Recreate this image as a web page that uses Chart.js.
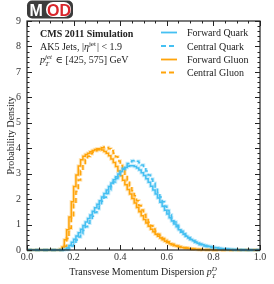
<!DOCTYPE html>
<html>
<head>
<meta charset="utf-8">
<script src="https://cdn.jsdelivr.net/npm/chart.js@4/dist/chart.umd.min.js"></script>
<style>
  html, body { margin: 0; padding: 0; background: #fff; }
  #c { display: block; }
</style>
</head>
<body>
<canvas id="c" width="274" height="284" style="width:274px;height:284px"></canvas>
<script>
// histogram contents, 100 bins of width 0.01 from 0 to 1
const binWidth = 0.01;

const forwardQuark = [
  0,0,0,0,0,0,0,0,0,0,0,0,0,0,0,0,
  0.02,0.08,0.18,0.30,0.42,0.55,0.68,0.82,0.96,1.10,
  1.24,1.38,1.52,1.66,1.80,1.94,2.08,2.22,2.36,2.50,
  2.63,2.76,2.88,2.99,3.09,3.17,3.24,3.29,3.31,3.31,
  3.28,3.22,3.14,3.04,2.93,2.80,2.66,2.51,2.36,2.20,
  2.04,1.88,1.72,1.56,1.41,1.27,1.14,1.02,0.91,0.80,
  0.70,0.62,0.54,0.47,0.41,0.36,0.31,0.27,0.24,0.21,
  0.18,0.155,0.135,0.115,0.10,0.085,0.07,0.06,0.05,0.042,
  0.035,0.028,0.022,0.018,0.014,0.011,0.008,0.006,0.004,0.003,
  0.002,0.001,0,0
];

const centralQuark = [
  0,0,0,0,0,0,0,0,0,0,0,0,0,0,0,0,0,
  0.02,0.07,0.16,
  0.27,0.39,0.51,0.64,0.77,0.91,1.05,1.19,1.33,1.47,
  1.62,1.77,1.92,2.07,2.22,2.37,2.52,2.67,2.81,2.95,
  3.08,3.20,3.31,3.40,3.47,3.51,3.52,3.49,3.43,3.34,
  3.23,3.10,2.95,2.79,2.62,2.44,2.26,2.08,1.90,1.72,
  1.55,1.39,1.24,1.10,0.97,0.85,0.74,0.64,0.56,0.48,
  0.42,0.36,0.31,0.26,0.22,0.19,0.16,0.135,0.115,0.095,
  0.08,0.066,0.054,0.044,0.036,0.029,0.023,0.018,0.014,0.011,
  0.008,0.006,0.004,0.003,0.002,0.001,0,0,0,0
];

const forwardGluon = [
  0,0,0,0,0,0,0,0,0,0,0,0,0,0,
  0.03,0.12,0.40,0.80,1.30,1.90,
  2.50,2.95,3.30,3.55,3.68,3.75,3.80,3.86,3.91,3.95,
  3.98,3.97,3.93,3.87,3.80,3.70,3.58,3.44,3.28,3.10,
  2.92,2.74,2.56,2.38,2.20,2.02,1.85,1.67,1.50,1.35,
  1.20,1.06,0.93,0.82,0.72,0.62,0.54,0.47,0.40,0.34,
  0.29,0.25,0.21,0.18,0.15,0.12,0.10,0.085,0.07,0.055,
  0.045,0.035,0.028,0.022,0.017,0.013,0.010,0.008,0.006,0.005,
  0.004,0.003,0.002,0.002,0.001,0,0,0,0,0,
  0,0,0,0,0,0,0,0,0,0
];

const centralGluon = [
  0,0,0,0,0,0,0,0,0,0,0,0,0,0,0,
  0.03,0.15,0.45,0.85,1.30,
  1.80,2.30,2.75,3.10,3.35,3.55,3.68,3.78,3.85,3.90,
  3.94,3.98,4.02,4.05,4.03,3.98,3.90,3.80,3.66,3.50,
  3.32,3.13,2.93,2.73,2.53,2.33,2.13,1.94,1.75,1.57,
  1.40,1.24,1.09,0.95,0.83,0.72,0.62,0.53,0.45,0.38,
  0.32,0.27,0.23,0.19,0.16,0.13,0.11,0.09,0.075,0.06,
  0.048,0.038,0.030,0.024,0.018,0.014,0.011,0.008,0.006,0.005,
  0.004,0.003,0.002,0.002,0.001,0,0,0,0,0,
  0,0,0,0,0,0,0,0,0,0
];

const seriesNames = ['Forward Quark', 'Central Quark', 'Forward Gluon', 'Central Gluon'];
const xTicks = [0, 0.2, 0.4, 0.6, 0.8, 1.0];
const yTicks = [0, 1, 2, 3, 4, 5, 6, 7, 8, 9];

const BLUE = '#45c0f2';
const ORANGE = '#ffa40a';
const DASH = [5, 3];
const SERIF = '"Liberation Serif", "DejaVu Serif", serif';

function toSteps(values) {
  const pts = values.map((v, i) => ({ x: i * binWidth, y: v }));
  pts.push({ x: values.length * binWidth, y: values[values.length - 1] });
  return pts;
}

function histSets(label, values, color, dashed) {
  const dash = dashed ? DASH : [];
  const halo = color === BLUE ? 'rgba(69,192,242,0.28)' : 'rgba(255,164,10,0.28)';
  return [
    { label: label + ' halo', data: toSteps(values), borderColor: halo, borderWidth: 3.5,
      borderDash: dash, borderCapStyle: 'butt', stepped: true, pointRadius: 0, fill: false, clip: false },
    { label, data: toSteps(values), borderColor: color, borderWidth: 1.5,
      borderDash: dash, borderCapStyle: 'butt', stepped: true, pointRadius: 0, fill: false, clip: false }
  ];
}

// runs of text with sub/superscripts
function drawRuns(ctx, x, y, runs) {
  for (const r of runs) {
    ctx.font = r.font;
    if (r.sup !== undefined || r.sub !== undefined) {
      let w = 0;
      if (r.sup) { ctx.fillText(r.sup, x, y - 4.5); w = ctx.measureText(r.sup).width; }
      if (r.sub) { ctx.fillText(r.sub, x, y + 2.5); w = Math.max(w, ctx.measureText(r.sub).width); }
      x += w + 1;
    } else {
      ctx.fillText(r.t, x, y);
      x += ctx.measureText(r.t).width;
    }
  }
  return x;
}

function runsWidth(ctx, runs) {
  let w = 0;
  for (const r of runs) {
    ctx.font = r.font;
    if (r.sup !== undefined || r.sub !== undefined) {
      w += Math.max(r.sup ? ctx.measureText(r.sup).width : 0, r.sub ? ctx.measureText(r.sub).width : 0) + 1;
    } else w += ctx.measureText(r.t).width;
  }
  return w;
}

function roundRect(ctx, x, y, w, h, r) {
  ctx.beginPath();
  ctx.moveTo(x + r, y);
  ctx.arcTo(x + w, y, x + w, y + h, r);
  ctx.arcTo(x + w, y + h, x, y + h, r);
  ctx.arcTo(x, y + h, x, y, r);
  ctx.arcTo(x, y, x + w, y, r);
  ctx.closePath();
}

const decorations = {
  id: 'decorations',
  afterDraw(chart) {
    const ctx = chart.ctx;
    const { left, right, top, bottom } = chart.chartArea;
    const xs = chart.scales.x, ys = chart.scales.y;
    ctx.save();

    // frame and inward ticks on all four sides
    ctx.strokeStyle = '#222';
    ctx.lineWidth = 1.2;
    ctx.strokeRect(left, top, right - left, bottom - top);
    ctx.lineWidth = 1;
    ctx.beginPath();
    for (let k = 0; k <= 20; k++) {
      const px = Math.round(xs.getPixelForValue(k * 0.05)) + 0.5;
      const len = k % 4 === 0 ? 5 : 2.5;
      ctx.moveTo(px, bottom); ctx.lineTo(px, bottom - len);
      ctx.moveTo(px, top); ctx.lineTo(px, top + len);
    }
    for (let k = 0; k <= 45; k++) {
      const py = Math.round(ys.getPixelForValue(k * 0.2)) + 0.5;
      const len = k % 5 === 0 ? 5 : 2.5;
      ctx.moveTo(left, py); ctx.lineTo(left + len, py);
      ctx.moveTo(right, py); ctx.lineTo(right - len, py);
    }
    ctx.stroke();

    // tick labels
    ctx.fillStyle = '#333';
    ctx.font = '10px ' + SERIF;
    ctx.textAlign = 'center';
    ctx.textBaseline = 'top';
    xTicks.forEach(v => ctx.fillText(v.toFixed(1), xs.getPixelForValue(v), bottom + 2));
    ctx.textAlign = 'right';
    ctx.textBaseline = 'middle';
    yTicks.forEach(v => ctx.fillText(String(v), left - 6, ys.getPixelForValue(v)));

    ctx.fillStyle = '#222';
    ctx.textBaseline = 'alphabetic';
    ctx.textAlign = 'left';

    // annotation text
    ctx.font = 'bold 10px ' + SERIF;
    ctx.fillText('CMS 2011 Simulation', 40, 37);
    drawRuns(ctx, 40, 50, [
      { t: 'AK5 Jets, |', font: '10px ' + SERIF },
      { t: 'η', font: 'italic 10px ' + SERIF },
      { sup: 'jet', font: '7px ' + SERIF },
      { t: '| < 1.9', font: '10px ' + SERIF }
    ]);
    drawRuns(ctx, 40, 63, [
      { t: 'p', font: 'italic 10px ' + SERIF },
      { sup: 'jet', sub: 'T', font: 'italic 7px ' + SERIF },
      { t: ' ∈ [425, 575] GeV', font: '10px ' + SERIF }
    ]);

    // legend
    const legendRows = [
      { color: BLUE, dash: [] }, { color: BLUE, dash: DASH },
      { color: ORANGE, dash: [] }, { color: ORANGE, dash: DASH }
    ];
    const rowY = [36, 49.5, 63, 76];
    legendRows.forEach((row, i) => {
      ctx.strokeStyle = row.color;
      ctx.lineWidth = 1.8;
      ctx.setLineDash(row.dash);
      ctx.beginPath();
      ctx.moveTo(161, rowY[i] - 3.5); ctx.lineTo(177, rowY[i] - 3.5);
      ctx.stroke();
      ctx.setLineDash([]);
      ctx.font = '10px ' + SERIF;
      ctx.fillText(seriesNames[i], 187, rowY[i]);
    });

    // x axis title
    const xRuns = [
      { t: 'Transvese Momentum Dispersion ', font: '10px ' + SERIF },
      { t: 'p', font: 'italic 10px ' + SERIF },
      { sup: 'D', sub: 'T', font: 'italic 7px ' + SERIF }
    ];
    const w = runsWidth(ctx, xRuns);
    drawRuns(ctx, (left + right) / 2 - w / 2, 275, xRuns);

    // y axis title
    ctx.save();
    ctx.translate(14, (top + bottom) / 2);
    ctx.rotate(-Math.PI / 2);
    ctx.textAlign = 'center';
    ctx.font = '10px ' + SERIF;
    ctx.fillText('Probability Density', 0, 0);
    ctx.restore();

    // MOD logo
    ctx.fillStyle = '#3b3b3b';
    roundRect(ctx, 27, 0.5, 46, 18, 5);
    ctx.fill();
    ctx.fillStyle = '#fff';
    roundRect(ctx, 46, 2, 25, 15, 7);
    ctx.fill();
    ctx.font = 'bold 16px "Liberation Sans", Arial, sans-serif';
    ctx.fillStyle = '#fff';
    ctx.fillText('M', 29.5, 16);
    ctx.fillStyle = '#d9262c';
    ctx.fillText('OD', 47, 16);

    ctx.restore();
  }
};

const datasets = [
  ...histSets(seriesNames[0], forwardQuark, BLUE, false),
  ...histSets(seriesNames[1], centralQuark, BLUE, true),
  ...histSets(seriesNames[2], forwardGluon, ORANGE, false),
  ...histSets(seriesNames[3], centralGluon, ORANGE, true)
];

new Chart(document.getElementById('c'), {
  type: 'line',
  data: { datasets },
  options: {
    responsive: false,
    animation: false,
    layout: { padding: { top: 21, right: 14, left: 0, bottom: 0 } },
    plugins: { legend: { display: false }, tooltip: { enabled: false } },
    scales: {
      x: {
        type: 'linear', min: 0, max: 1,
        grid: { display: false },
        border: { display: false },
        ticks: { display: false },
        afterFit: s => { s.height = 34; }
      },
      y: {
        min: 0, max: 9,
        grid: { display: false },
        border: { display: false },
        ticks: { display: false },
        afterFit: s => { s.width = 27; }
      }
    }
  },
  plugins: [decorations]
});
</script>
</body>
</html>
